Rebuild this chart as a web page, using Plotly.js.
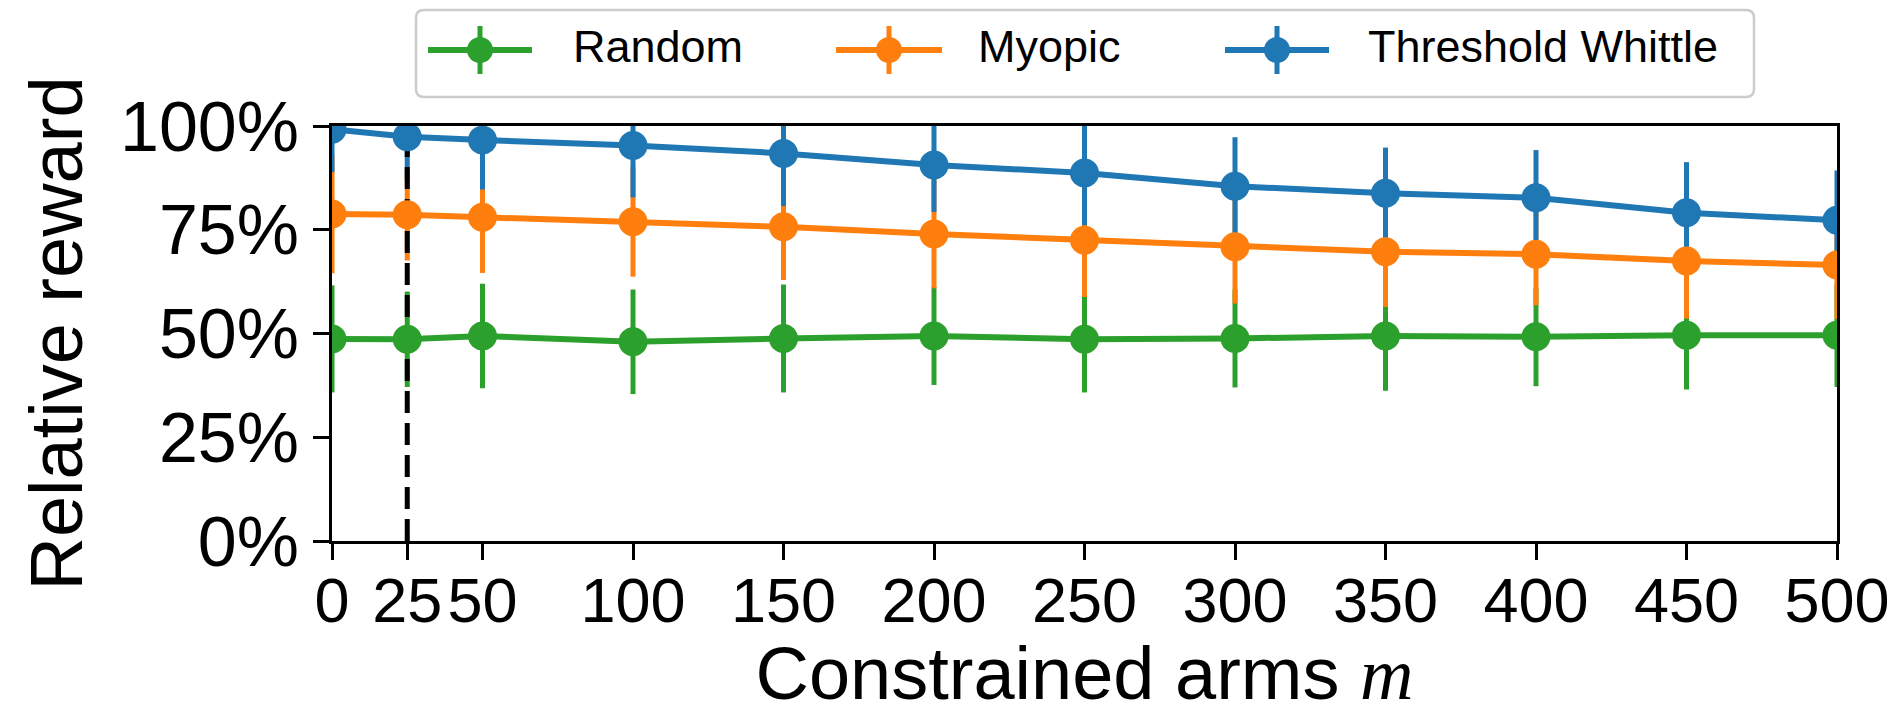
<!DOCTYPE html>
<html>
<head>
<meta charset="utf-8">
<script src="https://cdn.plot.ly/plotly-3.0.1.min.js"></script>
<style>
  html, body { margin: 0; padding: 0; background: #ffffff; }
  #chart { width: 1893px; height: 715px; }
</style>
</head>
<body>
<div id="chart"></div>
<script>
// ---- data (relative reward, %) ----
const arms = [0, 25, 50, 100, 150, 200, 250, 300, 350, 400, 450, 500];
const xTickVals = [0, 25, 50, 100, 150, 200, 250, 300, 350, 400, 450, 500];
const yTickVals = [0, 25, 50, 75, 100];
const yTickText = ["0%", "25%", "50%", "75%", "100%"];
const seriesNames = ["Random", "Myopic", "Threshold Whittle"];

const randomMean = [48.7, 48.6, 49.4, 48.0, 48.8, 49.4, 48.6, 48.8, 49.4, 49.2, 49.6, 49.6];
const randomErr  = [12.9, 11.5, 12.6, 12.6, 13.0, 11.8, 12.8, 11.8, 13.2, 11.9, 13.1, 12.5];
const myopicMean = [78.8, 78.6, 78.0, 76.9, 75.7, 74.0, 72.5, 70.9, 69.7, 69.1, 67.5, 66.5];
const myopicErr  = [14.3, 11.0, 13.4, 13.2, 12.8, 13.1, 13.7, 13.7, 13.3, 12.3, 13.9, 13.0];
const whittleMean = [99.2, 97.4, 96.6, 95.3, 93.4, 90.6, 88.7, 85.5, 83.8, 82.7, 79.1, 77.3];
const whittleErr  = [10.3, 10.5, 11.9, 12.5, 12.7, 11.3, 12.6, 11.8, 11.0, 11.5, 12.2, 12.0];

const thresholdArm = 25;          // dashed reference line position
const thresholdSpan = [0, 100];   // from bottom to top of the axis

// ---- style ----
const colors = ["#2ca02c", "#ff7f0e", "#1f77b4"];
const means = [randomMean, myopicMean, whittleMean];
const errs = [randomErr, myopicErr, whittleErr];
const LW = 6, MS = 29, ETH = 5;

const traces = [];
// error bars (bottom layer)
for (let i = 0; i < 3; i++) {
  traces.push({
    type: "scatter", mode: "markers", x: arms, y: means[i],
    marker: { size: 1, color: "rgba(0,0,0,0)" },
    error_y: { type: "data", array: errs[i], visible: true, color: colors[i], thickness: ETH, width: 0 },
    showlegend: false, hoverinfo: "skip"
  });
}
// dashed threshold line
traces.push({
  type: "scatter", mode: "lines", x: [thresholdArm, thresholdArm], y: thresholdSpan,
  line: { color: "#000000", width: 5, dash: "22px,10px" },
  showlegend: false, hoverinfo: "skip"
});
// lines + markers (top layer)
for (let i = 0; i < 3; i++) {
  traces.push({
    type: "scatter", mode: "lines+markers", name: seriesNames[i], x: arms, y: means[i],
    line: { color: colors[i], width: LW },
    marker: { color: colors[i], size: MS },
    showlegend: false
  });
}

// ---- plot geometry ----
const W = 1893, H = 715;
const mL = 332, mR = 56, mT = 126, mB = 174;
const pw = W - mL - mR, ph = H - mT - mB;
const px = v => (v - mL) / pw;
const py = v => (H - mB - v) / ph;

// ---- custom legend ----
const shapes = [];
const annotations = [];
const bx0 = 416, bx1 = 1754, by0 = 10, by1 = 97, rad = 8;
const rx = rad / pw, ry = rad / ph;
const X0 = px(bx0), X1 = px(bx1), Y0 = py(by0), Y1 = py(by1);
shapes.push({
  type: "path", xref: "paper", yref: "paper", layer: "above",
  path: `M ${X0 + rx} ${Y0} L ${X1 - rx} ${Y0} Q ${X1} ${Y0} ${X1} ${Y0 - ry} L ${X1} ${Y1 + ry} Q ${X1} ${Y1} ${X1 - rx} ${Y1} L ${X0 + rx} ${Y1} Q ${X0} ${Y1} ${X0} ${Y1 + ry} L ${X0} ${Y0 - ry} Q ${X0} ${Y0} ${X0 + rx} ${Y0} Z`,
  line: { color: "#cccccc", width: 2.5 }, fillcolor: "rgba(255,255,255,0.8)"
});
const handleY = 50;
const items = [
  { l0: 428, l1: 532, cx: 480, tx: 571 },
  { l0: 836, l1: 942, cx: 889, tx: 976 },
  { l0: 1225, l1: 1329, cx: 1277, tx: 1366 }
];
items.forEach((it, i) => {
  shapes.push({ type: "line", xref: "paper", yref: "paper", layer: "above",
    x0: px(it.l0), x1: px(it.l1), y0: py(handleY), y1: py(handleY),
    line: { color: colors[i], width: LW } });
  shapes.push({ type: "line", xref: "paper", yref: "paper", layer: "above",
    x0: px(it.cx), x1: px(it.cx), y0: py(handleY - 24), y1: py(handleY + 24),
    line: { color: colors[i], width: ETH } });
  const r = 13;
  shapes.push({ type: "circle", xref: "paper", yref: "paper", layer: "above",
    x0: px(it.cx - r), x1: px(it.cx + r), y0: py(handleY + r), y1: py(handleY - r),
    fillcolor: colors[i], line: { color: colors[i], width: 0 } });
  annotations.push({
    xref: "paper", yref: "paper", x: px(it.tx), y: py(handleY - 3),
    xanchor: "left", yanchor: "middle", showarrow: false,
    text: seriesNames[i], font: { family: "Liberation Sans, Arial, sans-serif", size: 45, color: "#000" }
  });
});

const layout = {
  width: W, height: H,
  margin: { l: mL, r: mR, t: mT, b: mB, pad: 0 },
  paper_bgcolor: "#ffffff", plot_bgcolor: "#ffffff",
  font: { family: "Liberation Sans, Arial, sans-serif", color: "#000000" },
  showlegend: false,
  xaxis: {
    range: [0, 500], tickmode: "array", tickvals: xTickVals, ticktext: xTickVals.map(String),
    tickangle: 0, ticklabelstandoff: -14,
    ticks: "outside", ticklen: 16, tickwidth: 3, tickcolor: "#000",
    showline: true, linewidth: 3, linecolor: "#000", mirror: true,
    showgrid: false, zeroline: false,
    tickfont: { size: 63, color: "#000" },
    title: { text: 'Constrained arms <span style="font-family:Liberation Serif"><i>m</i></span>',
             font: { size: 74, color: "#000" }, standoff: 26 }
  },
  yaxis: {
    range: [0, 100], tickmode: "array", tickvals: yTickVals, ticktext: yTickText,
    ticks: "outside", ticklen: 16, tickwidth: 3, tickcolor: "#000",
    showline: true, linewidth: 3, linecolor: "#000", mirror: true,
    showgrid: false, zeroline: false,
    tickfont: { size: 70, color: "#000" },
    title: { text: "Relative reward", font: { size: 74, color: "#000" }, standoff: 14 }
  },
  shapes: shapes,
  annotations: annotations
};

Plotly.newPlot("chart", traces, layout, { displayModeBar: false, staticPlot: true });
</script>
</body>
</html>
